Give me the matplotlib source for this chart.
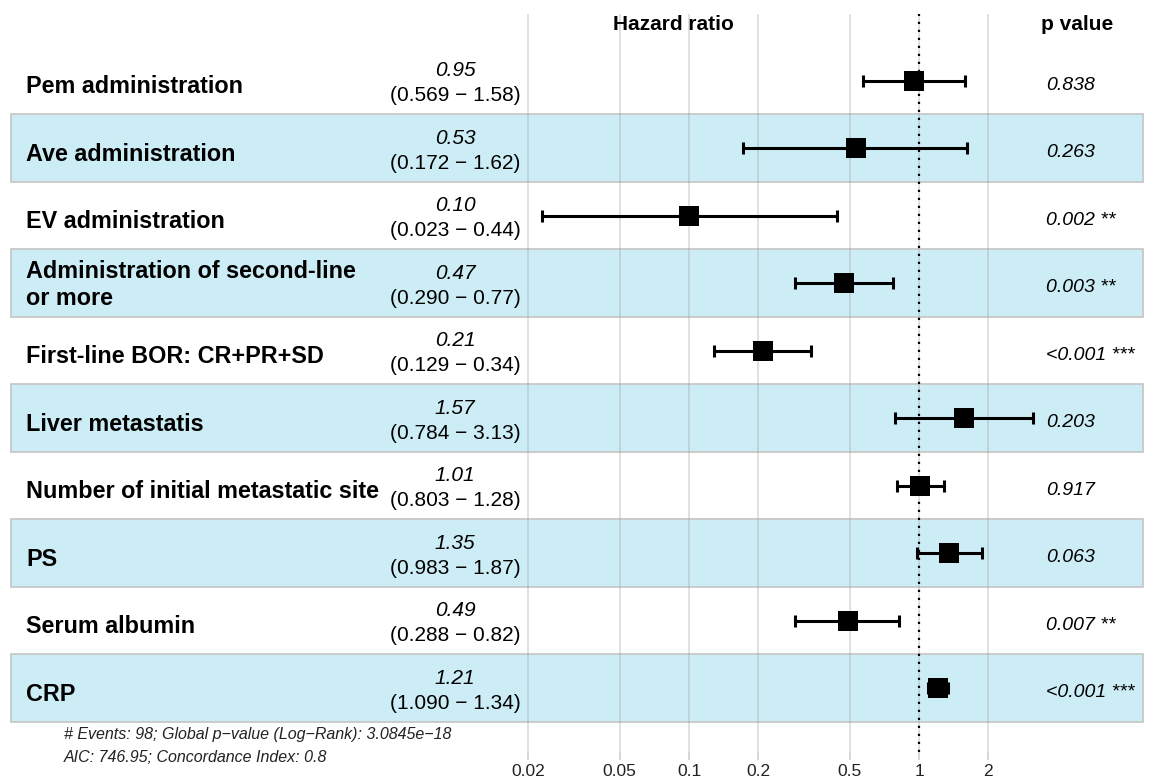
import numpy as np
import matplotlib
matplotlib.use("Agg")
import matplotlib.pyplot as plt

plt.rcParams['font.family'] = ['Liberation Sans', 'DejaVu Sans']

variables = ["Pem administration", "Ave administration", "EV administration",
             "Administration of second-line\nor more", "First-line BOR: CR+PR+SD",
             "Liver metastatis", "Number of initial metastatic site", "PS",
             "Serum albumin", "CRP"]
hr = [0.95, 0.53, 0.10, 0.47, 0.21, 1.57, 1.01, 1.35, 0.49, 1.21]
hr_labels = ["0.95", "0.53", "0.10", "0.47", "0.21", "1.57", "1.01", "1.35", "0.49", "1.21"]
ci_low = [0.569, 0.172, 0.023, 0.290, 0.129, 0.784, 0.803, 0.983, 0.288, 1.090]
ci_high = [1.58, 1.62, 0.44, 0.77, 0.34, 3.13, 1.28, 1.87, 0.82, 1.34]
ci_labels = ["(0.569 \u2212 1.58)", "(0.172 \u2212 1.62)", "(0.023 \u2212 0.44)",
             "(0.290 \u2212 0.77)", "(0.129 \u2212 0.34)", "(0.784 \u2212 3.13)",
             "(0.803 \u2212 1.28)", "(0.983 \u2212 1.87)", "(0.288 \u2212 0.82)",
             "(1.090 \u2212 1.34)"]
p_labels = ["0.838", "0.263", "0.002 **", "0.003 **", "<0.001 ***", "0.203",
            "0.917", "0.063", "0.007 **", "<0.001 ***"]
xticks = [0.02, 0.05, 0.1, 0.2, 0.5, 1, 2]
xtick_labels = ["0.02", "0.05", "0.1", "0.2", "0.5", "1", "2"]
footer = ["# Events: 98; Global p\u2212value (Log\u2212Rank): 3.0845e\u221218",
          "AIC: 746.95; Concordance Index: 0.8"]

W, H = 1152, 780
fig = plt.figure(figsize=(W / 100, H / 100), dpi=100)

# panel geometry (pixels)
x1_px, decade_px = 919.0, 230.0
top_px, bot_px = 14.0, 752.0
row0_px, row_h = 46.8, 67.5

def px2v(px):
    return 10 ** ((px - x1_px) / decade_px)

def py2d(py):
    # pixel y (from top) -> row data units (row i centred at i)
    return (py - (row0_px + row_h / 2)) / row_h

ax = fig.add_axes([0, (H - bot_px) / H, 1, (bot_px - top_px) / H])
ax.set_xscale('log')
ax.set_xlim(px2v(0), px2v(W))
ax.set_ylim(py2d(bot_px), py2d(top_px))
for s in ax.spines.values():
    s.set_visible(False)
ax.set_yticks([])
ax.set_xticks(xticks)
ax.set_xticklabels(xtick_labels)
ax.minorticks_off()
ax.tick_params(axis='x', length=6, width=1.1, color='#CCCCCC', labelsize=12.5,
               labelcolor='#222222', pad=3)
ax.grid(axis='x', color='#9A9A9A', alpha=0.38, lw=1.1, zorder=2)
ax.set_axisbelow(False)

n = len(variables)
y = np.arange(n)

# shaded alternating rows
for i in range(n):
    if i % 2 == 1:
        ax.axhspan(i - 0.5, i + 0.5, xmin=10.7 / W, xmax=1143 / W,
                   facecolor='#CDEDF6', edgecolor='#C8C8C8', lw=1.3, zorder=1)

# reference line at HR = 1
ax.axvline(1, color='black', lw=1.6, ls=(0, (1, 2.6)), zorder=3)

# error bars and points
ax.errorbar(hr, y, xerr=[np.array(hr) - np.array(ci_low), np.array(ci_high) - np.array(hr)],
            fmt='none', ecolor='black', elinewidth=2.2, capsize=4.3, capthick=2.2, zorder=4)
ax.plot(hr, y, 's', color='black', ms=14, mew=0, zorder=5)

fs = 15
name_x = px2v(26)
est_x = px2v(455)
p_x = px2v(1046)
line_sp = 26.7 / row_h
for i in range(n):
    lines = variables[i].split("\n")
    if len(lines) == 1:
        base = [i + 12.5 / row_h]
    else:
        base = [i - 4.75 / row_h + k * line_sp for k in range(len(lines))]
    for ln, b in zip(lines, base):
        ax.text(name_x, b, ln, fontsize=16.8, fontweight='bold', ha='left',
                va='baseline', zorder=6)
    ax.text(est_x, i - 4.5 / row_h, hr_labels[i], fontsize=fs, style='italic',
            ha='center', va='baseline', zorder=6)
    ax.text(est_x, i + 20.5 / row_h, ci_labels[i], fontsize=fs,
            ha='center', va='baseline', zorder=6)
    ax.text(p_x, i + 9 / row_h, p_labels[i], fontsize=14, style='italic',
            ha='left', va='baseline', zorder=6)

# headers
ax.text(px2v(673), py2d(30), "Hazard ratio", fontsize=fs, fontweight='bold',
        ha='center', va='baseline')
ax.text(px2v(1077), py2d(30), "p value", fontsize=fs, fontweight='bold',
        ha='center', va='baseline')

# footer
fig.text(64 / W, 1 - 734 / H, footer[0], fontsize=11.5, style='italic',
         ha='left', va='center', color='#222222')
fig.text(64 / W, 1 - 757 / H, footer[1], fontsize=11.5, style='italic',
         ha='left', va='center', color='#222222')

fig.savefig("out.png", dpi=100)
